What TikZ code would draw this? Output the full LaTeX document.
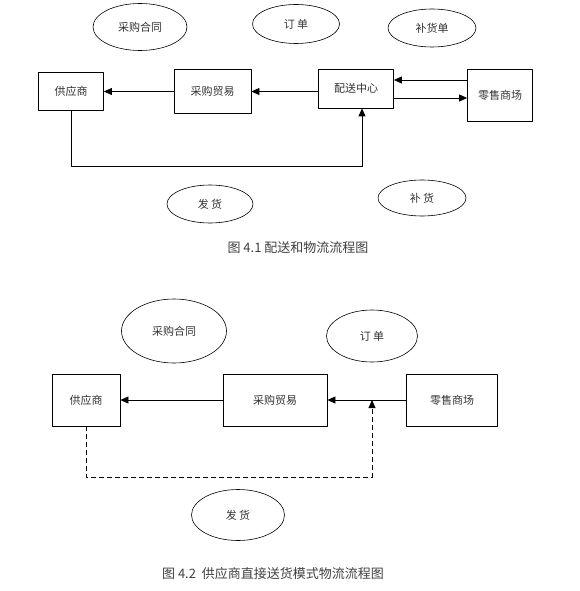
\documentclass[tikz,border=0pt]{standalone}
\usepackage{fontspec}
\setmainfont{Noto Sans CJK SC}
\usetikzlibrary{shapes.geometric,arrows.meta}
\begin{document}
\begin{tikzpicture}[x=1pt,y=-1pt,line join=round,line width=0.8pt,>={Triangle[length=8pt,width=7pt]},
		font=\fontsize{11}{13}\selectfont,text=black!80,
		box/.style={draw,inner sep=0pt},
		oval/.style={draw,ellipse,inner sep=0pt,line width=0.6pt},
		capt/.style={font=\fontsize{13}{15}\selectfont,text=black!75}]
	\useasboundingbox (0,0) rectangle (579,591);
	% 图 4.1
	\node[box,minimum width=65pt,minimum height=38pt] (gys1) at (71,91.5) {供应商};
	\node[box,minimum width=77pt,minimum height=44pt] (cg1) at (212.5,91.5) {采购贸易};
	\node[box,minimum width=75pt,minimum height=39pt] (ps1) at (356,88.5) {配送中心};
	\node[box,minimum width=65pt,minimum height=52pt] (ls1) at (500,95) {零售商场};
	\foreach \n/\x/\y/\w/\h/\t in {ht1/140/27/94/47/采购合同,dd1/296/24/87/39/订\ 单,bhd/432/28/88/38/补货单,fh1/210/204/86/38/发\ 货,bh/422/198/88/36/补\ 货}
	{\node[oval,minimum width=\w pt,minimum height=\h pt] (\n) at (\x,\y) {\t};}
	\coordinate (c1) at (362,166);
	\draw[->] (cg1.west) -- (gys1.east);
	\draw[->] (ps1.west |- cg1.east) -- (cg1.east);
	\draw[->] ([yshift=15pt]ls1.west) -- ([yshift=15pt]ls1.west -| ps1.east);
	\draw[->] ([yshift=-3pt]ls1.west -| ps1.east) -- ([yshift=-3pt]ls1.west);
	\draw[->] (gys1.south) |- (c1) -- (c1 |- ps1.south);
	\node[capt] (t1) at (298,248) {图 4.1 配送和物流流程图};
	% 图 4.2
	\node[box,minimum width=68pt,minimum height=52pt] (gys2) at (86,400) {供应商};
	\node[box,minimum width=104pt,minimum height=52pt] (cg2) at (275,400) {采购贸易};
	\node[box,minimum width=91pt,minimum height=52pt] (ls2) at (452,400) {零售商场};
	\foreach \n/\x/\y/\w/\h/\t in {ht2/174/331/105/64/采购合同,dd2/372/336/91/52/订\ 单,fh2/238/515/93/51/发\ 货}
	{\node[oval,minimum width=\w pt,minimum height=\h pt] (\n) at (\x,\y) {\t};}
	\coordinate (c2) at (372,477);
	\draw[->] (cg2.west) -- (gys2.east);
	\draw[->] (ls2.west) -- (cg2.east);
	\draw[->,dash pattern=on 5pt off 3pt] (gys2.south) |- (c2) -- (c2 |- cg2.east);
	\node[capt] (t2) at (273,574) {图 4.2\ \ 供应商直接送货模式物流流程图};
\end{tikzpicture}
\end{document}
